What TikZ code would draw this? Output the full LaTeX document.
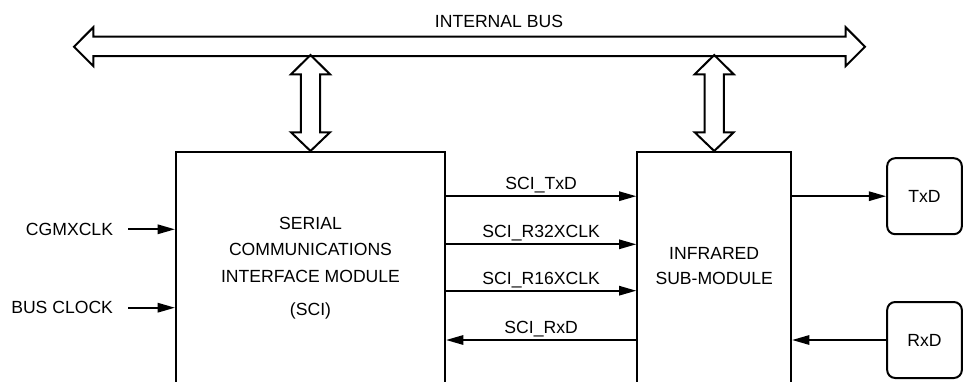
\documentclass[tikz,border=0pt]{standalone}
\usepackage{fontspec}
\setmainfont{Liberation Sans}
\usetikzlibrary{arrows.meta}

\tikzset{every picture/.style={line width=1.5pt}}
\tikzset{
  modbox/.style={draw, rectangle, inner sep=0pt},
  padbox/.style={draw, rectangle, rounded corners=6pt, minimum width=56pt, minimum height=57pt, inner sep=0pt},
  txt/.style={inner sep=0pt, font=\fontsize{13.2}{20}\selectfont, align=center},
  sig/.style={-{Triangle[length=13pt,width=7pt]}},
  busarrow/.style={draw, line join=miter}
}

\begin{document}
\begin{tikzpicture}[x=0.75pt,y=0.75pt,yscale=-1,xscale=1]
\useasboundingbox (0,0) rectangle (964,382);
\clip (0,0) rectangle (964,382);

% modules (bottom edge runs off the page)
\node[modbox, minimum width=201.75pt, minimum height=186pt] (sci) at (310.5,276) {};
\node[modbox, minimum width=115.3pt, minimum height=186pt] (ir) at (714.2,276) {};
\node[txt] (scitxt) at (310.5,268) {SERIAL\\COMMUNICATIONS\\INTERFACE MODULE\\[4.5pt](SCI)};
\node[txt, font=\fontsize{13.2}{19}\selectfont] (irtxt) at (714.2,266) {INFRARED\\SUB-MODULE};

% pins
\node[padbox, txt] (txd) at (924.5,196.2) {TxD};
\node[padbox, txt] (rxd) at (924.5,340) {RxD};

% internal bus
\coordinate (busL) at (74,46.7);
\draw[busarrow] (busL) -- ++(19.3,-19.4) -- ++(0,9.4) -- ++(752.4,0) -- ++(0,-9.4) -- ++(19.3,19.4)
  -- ++(-19.3,19.3) -- ++(0,-10) -- ++(-752.4,0) -- ++(0,10) -- cycle;
\node[txt] (bus) at (499,21.7) {INTERNAL BUS};

% bus links
\foreach \m in {sci,ir}
  \draw[busarrow] (\m.north) -- ++(-19.5,-18.7) -- ++(9.8,0) -- ++(0,-58) -- ++(-9.8,0) -- ++(19.5,-19.3)
    -- ++(19.5,19.3) -- ++(-9.8,0) -- ++(0,58) -- ++(9.8,0) -- cycle;

% clock inputs
\node[txt, anchor=east] (cgm) at (114,229.3) {CGMXCLK};
\node[txt, anchor=east] (busclk) at (114,307.7) {BUS CLOCK};
\draw[sig] (cgm.east) ++(14,0) -- (sci.west |- cgm);
\draw[sig] (busclk.east) ++(14,0) -- (sci.west |- busclk);

% signals between modules
\coordinate (r32) at (0,244.3);
\coordinate (r16) at (0,290.7);
\draw[sig] (sci.east |- txd) -- node[txt, above=1.5pt] (ltx) {SCI\_TxD} (ir.west |- txd);
\draw[sig] (sci.east |- r32) -- node[txt, above=1.5pt] (l32) {SCI\_R32XCLK} (ir.west |- r32);
\draw[sig] (sci.east |- r16) -- node[txt, above=1.5pt] (l16) {SCI\_R16XCLK} (ir.west |- r16);
\draw[sig] (ir.west |- rxd) -- node[txt, above=1.5pt] (lrx) {SCI\_RxD} (sci.east |- rxd);

% pins
\draw[sig] (ir.east |- txd) -- (txd.west);
\draw[sig] (rxd.west) -- (ir.east |- rxd);

\end{tikzpicture}
\end{document}
